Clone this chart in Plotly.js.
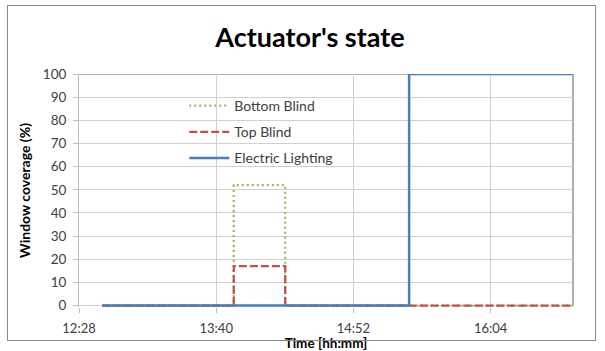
<!DOCTYPE html>
<html>
<head>
<meta charset="utf-8">
<script src="https://cdn.plot.ly/plotly-3.0.1.min.js"></script>
<style>
  html, body { margin: 0; padding: 0; background: #ffffff; }
  #wrap { position: relative; width: 605px; height: 351px; }
  #chart { position: absolute; left: 0; top: 0; width: 605px; height: 351px; }
  #frame { position: absolute; left: 7px; top: 5px; width: 589px; height: 336px;
           border: 1px solid #8a8a8a; pointer-events: none; box-sizing: border-box; }
</style>
</head>
<body>
<div id="wrap">
  <div id="chart"></div>
  <div id="frame"></div>
</div>
<script>
// ---- data ----
const sampleTimes = ['12:41', '13:50', '14:17', '15:22', '16:48'];
const bottomBlind = [0, 52, 0, 0, 0];
const topBlind = [0, 17, 0, 0, 0];
const electricLighting = [0, 0, 0, 100, 100];

const seriesNames = ['Bottom Blind', 'Top Blind', 'Electric Lighting'];

const xTickTimes = ['12:28:48', '13:40:48', '14:52:48', '16:04:48'];
const xTickLabels = ['12:28', '13:40', '14:52', '16:04'];
const xRangeTimes = ['12:28:48', '16:48:00'];
const yTicks = [0, 10, 20, 30, 40, 50, 60, 70, 80, 90, 100];

const DAY = '2000-01-01 ';
const toDate = t => DAY + t;
const xs = sampleTimes.map(toDate);

const FONT = 'Lato, "Open Sans", "DejaVu Sans", sans-serif';

const traces = [
  { x: xs, y: bottomBlind, name: seriesNames[0], mode: 'lines', legend: 'legend',
    line: { shape: 'hv', color: '#9bbb59', width: 2.25, dash: '2px,3px' } },
  { x: xs, y: topBlind, name: seriesNames[1], mode: 'lines', legend: 'legend2',
    line: { shape: 'hv', color: '#c0504d', width: 2.25, dash: '8px,3px' } },
  { x: xs, y: electricLighting, name: seriesNames[2], mode: 'lines', legend: 'legend3',
    line: { shape: 'hv', color: '#4a7ebb', width: 2.5 } }
];

const legendBase = {
  bgcolor: 'rgba(0,0,0,0)', borderwidth: 0,
  font: { family: FONT, size: 14, color: '#404040' },
  itemwidth: 40,
  xanchor: 'left', yanchor: 'middle', x: 0.213
};
const rowY = px => 1 - (px - 74) / 232;

const layout = {
  width: 605, height: 351,
  paper_bgcolor: '#ffffff', plot_bgcolor: '#ffffff',
  margin: { l: 79, r: 32, t: 74, b: 44 },
  font: { family: FONT, color: '#404040' },
  title: {
    text: "<b>Actuator's state</b>",
    font: { family: FONT, size: 27, color: '#000000' },
    x: 310 / 605, xanchor: 'center', xref: 'container',
    y: 1 - 38 / 351, yref: 'container', yanchor: 'middle'
  },
  xaxis: {
    type: 'date',
    range: xRangeTimes.map(toDate),
    tickmode: 'array',
    tickvals: xTickTimes.map(toDate),
    ticktext: xTickLabels,
    ticks: 'outside', ticklen: 5, tickcolor: '#bfbfbf',
    ticklabelstandoff: 4,
    tickfont: { family: FONT, size: 13, color: '#404040' },
    showgrid: true, gridcolor: '#d0d0d0', gridwidth: 1,
    showline: false,
    zeroline: false,
    title: { text: '<b>Time [hh:mm]</b>', font: { family: FONT, size: 13.5, color: '#000000' }, standoff: 5 }
  },
  yaxis: {
    range: [-0.6, 100],
    tickmode: 'array', tickvals: yTicks,
    ticks: 'outside', ticklen: 5, tickcolor: '#bfbfbf',
    ticklabelstandoff: 4,
    tickfont: { family: FONT, size: 13.5, color: '#404040' },
    showgrid: true, gridcolor: '#d0d0d0', gridwidth: 1,
    showline: true, linecolor: '#bfbfbf', linewidth: 1,
    zeroline: false,
    title: { text: '<b>Window coverage (%)</b>', font: { family: FONT, size: 14, color: '#000000' }, standoff: 8 }
  },
  shapes: [
    { type: 'line', xref: 'paper', yref: 'y', x0: 0, x1: 1, y0: 100, y1: 100,
      line: { color: '#606060', width: 1 }, layer: 'below' },
    { type: 'line', xref: 'paper', yref: 'y', x0: 1, x1: 1, y0: 0, y1: 100,
      line: { color: '#606060', width: 1 }, layer: 'below' }
  ],
  showlegend: true,
  legend: Object.assign({}, legendBase, { y: rowY(106) }),
  legend2: Object.assign({}, legendBase, { y: rowY(132) }),
  legend3: Object.assign({}, legendBase, { y: rowY(158) })
};

Plotly.newPlot('chart', traces, layout, { displayModeBar: false, staticPlot: true });
</script>
</body>
</html>
